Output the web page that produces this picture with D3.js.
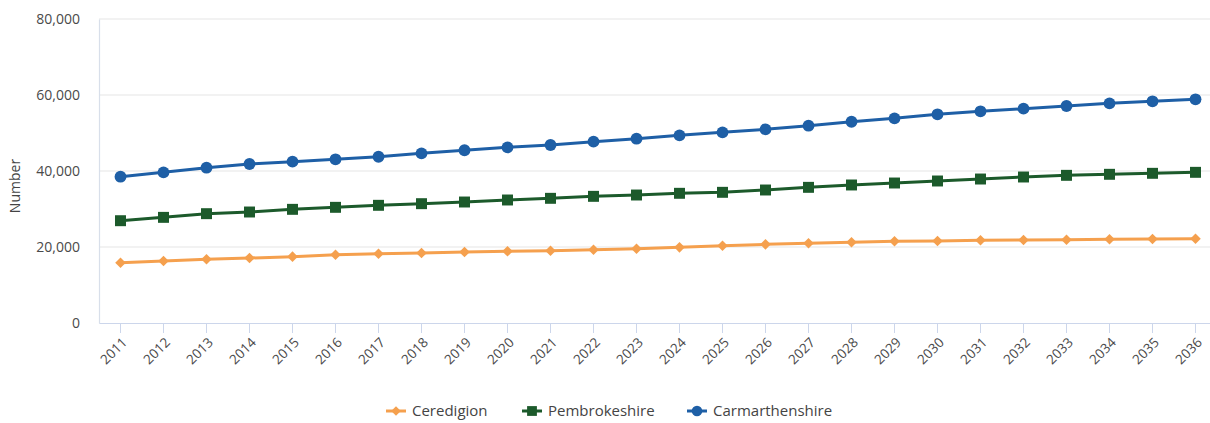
<!DOCTYPE html>
<html>
<head>
<meta charset="utf-8">
<script src="https://cdn.jsdelivr.net/npm/d3@7/dist/d3.min.js"></script>
<style>
  html, body { margin: 0; padding: 0; background: #fff; }
  svg { display: block; font-family: "Open Sans", "Noto Sans", sans-serif; }
</style>
</head>
<body>
<svg id="chart" width="1210" height="423"></svg>
<script>
const years = ["2011","2012","2013","2014","2015","2016","2017","2018","2019","2020","2021","2022","2023","2024","2025","2026","2027","2028","2029","2030","2031","2032","2033","2034","2035","2036"];
const ceredigion = [15870,16320,16760,17100,17460,17980,18240,18420,18680,18860,19030,19290,19550,19910,20340,20700,20970,21230,21500,21580,21760,21840,21920,22020,22100,22180];
const pembrokeshire = [26920,27800,28770,29210,29910,30440,30970,31400,31840,32370,32810,33330,33680,34130,34390,35000,35700,36320,36840,37370,37890,38420,38860,39130,39390,39650];
const carmarthenshire = [38500,39650,40870,41840,42450,43080,43760,44650,45450,46230,46840,47720,48500,49390,50180,50970,51920,52970,53860,54920,55710,56400,57100,57800,58340,58870];
const yTicks = [0,20000,40000,60000,80000];
const seriesNames = ["Ceredigion","Pembrokeshire","Carmarthenshire"];

(function () {
const series = [
  {name: seriesNames[0], values: ceredigion, color: "#F5A04E", symbol: "diamond"},
  {name: seriesNames[1], values: pembrokeshire, color: "#1C5A2B", symbol: "square"},
  {name: seriesNames[2], values: carmarthenshire, color: "#1E5FA6", symbol: "circle"}
];

const svg = d3.select("#chart");
const mLeft = 99, mRight = 1217, mTop = 19, mBottom = 323;

const x = d3.scaleBand().domain(years).range([mLeft, mRight]);
const xc = d => x(d) + x.bandwidth() / 2;
const y = d3.scaleLinear().domain([0, 80000]).range([mBottom, mTop]);

// gridlines
svg.append("g").selectAll("line").data(yTicks.filter(t => t > 0)).join("line")
  .attr("x1", mLeft).attr("x2", 1210)
  .attr("y1", d => y(d)).attr("y2", d => y(d))
  .attr("stroke", "#e6e6e6").attr("stroke-width", 1.2);

// y axis
const yAxis = svg.append("g").attr("transform", `translate(${mLeft},0)`)
  .call(d3.axisLeft(y).tickValues(yTicks).tickFormat(d3.format(",")).tickSize(0).tickPadding(19));
yAxis.select(".domain").attr("stroke", "#d8dfea").attr("stroke-width", 1.2);
yAxis.selectAll("text").attr("fill", "#4a4a4a").style("font-size", "14px").style("font-family", "'Open Sans', sans-serif");

// x axis
const xAxis = svg.append("g").attr("transform", `translate(0,${mBottom})`)
  .call(d3.axisBottom(x).tickSize(10).tickSizeOuter(0));
xAxis.select(".domain").attr("stroke", "#ccd6eb").attr("stroke-width", 1.2);
xAxis.selectAll(".tick line").attr("stroke", "#ccd6eb");
xAxis.selectAll("text")
  .attr("fill", "#4a4a4a").style("font-size", "13.5px")
  .style("font-family", "'Open Sans', sans-serif")
  .attr("text-anchor", "end")
  .attr("x", 0).attr("y", 0).attr("dy", "0.35em")
  .attr("transform", "translate(4,17) rotate(-45)");

// y label
svg.append("text")
  .attr("transform", `translate(20,${(mTop + mBottom) / 2 + 15}) rotate(-90)`)
  .attr("text-anchor", "middle")
  .attr("fill", "#444").style("font-size", "14px")
  .text("Number");

const symbolType = {circle: d3.symbolCircle, square: d3.symbolSquare, diamond: d3.symbolSquare};
const symbolSize = {circle: 110, square: 120, diamond: 56};
const symbolRot = {circle: 0, square: 0, diamond: 45};

const line = d3.line().x((d, i) => xc(years[i])).y(d => y(d));

series.forEach(s => {
  const g = svg.append("g");
  g.append("path").datum(s.values)
    .attr("d", line).attr("fill", "none")
    .attr("stroke", s.color).attr("stroke-width", 3);
  g.selectAll("path.pt").data(s.values).join("path")
    .attr("class", "pt")
    .attr("transform", (d, i) => `translate(${xc(years[i])},${y(d)}) rotate(${symbolRot[s.symbol]})`)
    .attr("d", d3.symbol().type(symbolType[s.symbol]).size(symbolSize[s.symbol]))
    .attr("fill", s.color);
});

// legend
const legendX = [386, 522, 687];
const lg = svg.append("g").attr("transform", "translate(0,411)");
series.forEach((s, i) => {
  const g = lg.append("g").attr("transform", `translate(${legendX[i]},0)`);
  g.append("line").attr("x1", 0).attr("x2", 20).attr("y1", 0).attr("y2", 0)
    .attr("stroke", s.color).attr("stroke-width", 3);
  g.append("path").attr("transform", `translate(10,0) rotate(${symbolRot[s.symbol]})`)
    .attr("d", d3.symbol().type(symbolType[s.symbol]).size(symbolSize[s.symbol] * 0.8))
    .attr("fill", s.color);
  g.append("text").attr("x", 26).attr("y", 0).attr("dy", "0.35em")
    .attr("fill", "#444").style("font-size", "15px").text(s.name);
});
})();
</script>
</body>
</html>
